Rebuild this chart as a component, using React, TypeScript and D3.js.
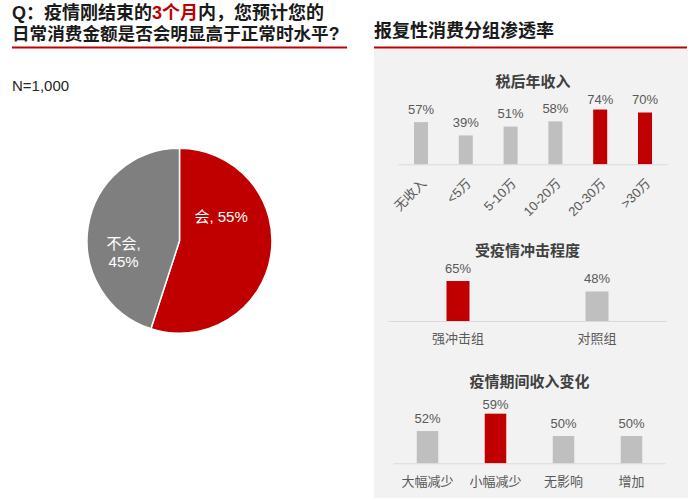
import React from "react";
import * as d3 from "d3";

// ---------- data ----------
const titleLine1Parts = [
  { text: "Q：疫情刚结束的", red: false },
  { text: "3个月", red: true },
  { text: "内，您预计您的", red: false },
];
const titleLine2 = "日常消费金额是否会明显高于正常时水平?";
const rightTitle = "报复性消费分组渗透率";
const sampleLabel = "N=1,000";

const pieCategories = ["会", "不会"];
const pieValues = [55, 45];

const incomeTitle = "税后年收入";
const incomeCategories = ["无收入", "<5万", "5-10万", "10-20万", "20-30万", ">30万"];
const incomeValues = [57, 39, 51, 58, 74, 70];
const incomeHighlight = [false, false, false, false, true, true];

const impactTitle = "受疫情冲击程度";
const impactCategories = ["强冲击组", "对照组"];
const impactValues = [65, 48];
const impactHighlight = [true, false];

const changeTitle = "疫情期间收入变化";
const changeCategories = ["大幅减少", "小幅减少", "无影响", "增加"];
const changeValues = [52, 59, 50, 50];
const changeHighlight = [false, true, false, false];

// ---------- style ----------
const FONT = "'Liberation Sans', 'Noto Sans CJK SC', sans-serif";
const RED = "#C00000";
const GRAY_BAR = "#BFBFBF";
const PIE_GRAY = "#7F7F7F";
const TEXT = "#595959";
const SUB = "#404040";

type PanelProps = {
  title: string;
  titleY: number;
  categories: string[];
  values: number[];
  highlight: boolean[];
  x0: number;
  x1: number;
  baseY: number;
  domain: [number, number];
  topY: number;
  barW: number;
  labelMinY: number;
  rotate: boolean;
  catY: number;
};

function BarPanel(p: PanelProps) {
  const x = d3.scalePoint<string>().domain(p.categories).range([p.x0, p.x1]).padding(0.5);
  const y = d3.scaleLinear().domain(p.domain).range([p.baseY, p.topY]);
  return (
    <g>
      <text x={(p.x0 + p.x1) / 2} y={p.titleY} textAnchor="middle" fontSize={15} fontWeight="bold" fill={SUB} fontFamily={FONT}>
        {p.title}
      </text>
      {p.categories.map((c, i) => {
        const cx = x(c)!;
        const top = y(p.values[i]);
        return (
          <g key={c}>
            <rect x={cx - p.barW / 2} y={top} width={p.barW} height={p.baseY - top} fill={p.highlight[i] ? RED : GRAY_BAR} />
            <text x={cx} y={Math.max(top - 8.5, p.labelMinY)} textAnchor="middle" fontSize={13} fill={TEXT} fontFamily={FONT}>
              {p.values[i]}%
            </text>
            {p.rotate ? (
              <text
                transform={`translate(${cx + 3},${p.catY}) rotate(-45)`}
                textAnchor="end"
                dy="0.35em"
                fontSize={13}
                fill={TEXT}
                fontFamily={FONT}
              >
                {c}
              </text>
            ) : (
              <text x={cx} y={p.catY} textAnchor="middle" fontSize={13} fill={TEXT} fontFamily={FONT}>
                {c}
              </text>
            )}
          </g>
        );
      })}
      <line x1={p.x0} x2={p.x1} y1={p.baseY + 0.5} y2={p.baseY + 0.5} stroke="#D9D9D9" strokeWidth={1} />
    </g>
  );
}

export default function App() {
  const cx = 179.5;
  const cy = 240.8;
  const r = 92.5;
  const pie = d3.pie<number>().sort(null).value((d) => d);
  const arcs = pie(pieValues);
  const arcGen = d3.arc<d3.PieArcDatum<number>>().innerRadius(0).outerRadius(r);
  // label placement: angle shift (rad) and radius relative to slice mid-angle
  const labelShift = [-0.68, -0.35];
  const labelRadius = [48, 57];

  return (
    <svg
      width={700}
      height={500}
      style={{ position: "fixed", left: 0, top: 0, background: "#fff" }}
      fontFamily={FONT}
    >
      <rect x={0} y={0} width={700} height={500} fill="#fff" />
      {/* left title */}
      <text x={12} y={19} fontSize={18} fontWeight="bold" fill="#1a1a1a">
        {titleLine1Parts.map((t, i) => (
          <tspan key={i} fill={t.red ? RED : "#1a1a1a"}>
            {t.text}
          </tspan>
        ))}
      </text>
      <text x={12} y={40} fontSize={17.6} fontWeight="bold" fill="#1a1a1a">
        {titleLine2}
      </text>
      <line x1={12} x2={347} y1={47.5} y2={47.5} stroke={RED} strokeWidth={2} />
      <text x={12} y={91} fontSize={15} fill="#262626">
        {sampleLabel}
      </text>

      {/* pie */}
      <g transform={`translate(${cx},${cy})`}>
        {arcs.map((a, i) => (
          <path key={i} d={arcGen(a)!} fill={i === 0 ? RED : PIE_GRAY} stroke="#fff" strokeWidth={1.5} />
        ))}
        {arcs.map((a, i) => {
          const mid = (a.startAngle + a.endAngle) / 2 + labelShift[i];
          const lx = Math.sin(mid) * labelRadius[i];
          const ly = -Math.cos(mid) * labelRadius[i];
          const pct = `${pieValues[i]}%`;
          if (i === 0) {
            return (
              <text key={i} x={lx} y={ly} dy="0.35em" textAnchor="middle" fontSize={15} fill="#fff">
                {pieCategories[i]}, {pct}
              </text>
            );
          }
          return (
            <text key={i} x={lx} y={ly} textAnchor="middle" fontSize={15} fill="#fff">
              <tspan x={lx} dy="-0.2em">{pieCategories[i]},</tspan>
              <tspan x={lx} dy="1.25em">{pct}</tspan>
            </text>
          );
        })}
      </g>

      {/* right side */}
      <text x={374} y={37} fontSize={18} fontWeight="bold" fill="#1a1a1a">
        {rightTitle}
      </text>
      <rect x={374} y={49} width={314} height={449} fill="#F2F2F2" />
      <line x1={374} x2={687} y1={47.5} y2={47.5} stroke={RED} strokeWidth={2} />

      <BarPanel
        title={incomeTitle}
        titleY={87}
        categories={incomeCategories}
        values={incomeValues}
        highlight={incomeHighlight}
        x0={398.6}
        x1={667.4}
        baseY={164.3}
        domain={[0, 100]}
        topY={90.3}
        barW={14}
        labelMinY={103.5}
        rotate={true}
        catY={181}
      />
      <BarPanel
        title={impactTitle}
        titleY={256}
        categories={impactCategories}
        values={impactValues}
        highlight={impactHighlight}
        x0={388.5}
        x1={666.5}
        baseY={321}
        domain={[0, 100]}
        topY={259.5}
        barW={23}
        labelMinY={0}
        rotate={false}
        catY={343}
      />
      <BarPanel
        title={changeTitle}
        titleY={387}
        categories={changeCategories}
        values={changeValues}
        highlight={changeHighlight}
        x0={393.5}
        x1={665.5}
        baseY={463.3}
        domain={[39, 60]}
        topY={411.2}
        barW={21.5}
        labelMinY={409}
        rotate={false}
        catY={486}
      />
    </svg>
  );
}
